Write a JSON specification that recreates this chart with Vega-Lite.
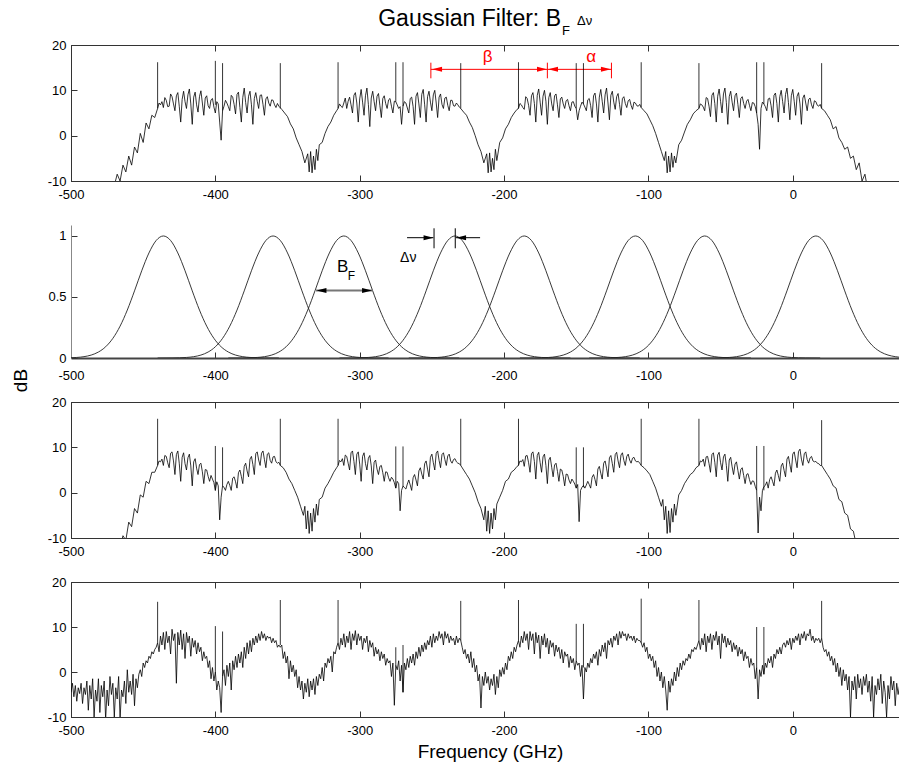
{
"$schema": "https://vega.github.io/schema/vega-lite/v6.json",
"background": "white",
"padding": {"left": 10, "top": 7, "right": 0, "bottom": 0},
"config": {
  "font": "Liberation Sans",
  "view": {"stroke": null},
  "axis": {"grid": false, "labelFont": "Liberation Sans", "labelFontSize": 13, "labelColor": "black", "domainColor": "#333", "tickColor": "#333", "tickSize": -6, "labelPadding": 11, "labelFlush": false, "labelOverlap": false, "titleFont": "Liberation Sans", "titleFontSize": 19, "titleFontWeight": "normal", "titleColor": "black"},
  "axisX": {"labelPadding": 13}
},
"spacing": 44,
"bounds": "flush",
"datasets": {
"s1": [{"f":-474,"a":-12},{"f":-472,"a":-10.5},{"f":-470,"a":-11},{"f":-468,"a":-8.5},{"f":-466,"a":-10},{"f":-464,"a":-6.5},{"f":-462,"a":-8},{"f":-460,"a":-4.5},{"f":-458,"a":-6.5},{"f":-456,"a":-2.5},{"f":-454,"a":-3.8},{"f":-452,"a":0.5},{"f":-450,"a":-1.5},{"f":-448,"a":2.8},{"f":-446,"a":1.5},{"f":-444,"a":4.5},{"f":-442,"a":4},{"f":-440,"a":6},
{"f":-439,"a":7.2},{"f":-438,"a":6.8},{"f":-437,"a":7.5},{"f":-436,"a":6.2},{"f":-435,"a":8.4},{"f":-434,"a":7.8},{"f":-433,"a":6.4},{"f":-432,"a":6.5},{"f":-431,"a":9.2},{"f":-430,"a":8.6},{"f":-429,"a":7},{"f":-428,"a":5.5},{"f":-427,"a":8.8},{"f":-426,"a":9.5},{"f":-425,"a":6.5},{"f":-424,"a":3},{"f":-423,"a":8},{"f":-422,"a":9.8},{"f":-421,"a":7.5},{"f":-420,"a":6},{"f":-419,"a":9},{"f":-418,"a":10.3},{"f":-417,"a":7},{"f":-416,"a":2.5},{"f":-415,"a":8.5},{"f":-414,"a":9.6},{"f":-413,"a":6.8},{"f":-412,"a":5.2},{"f":-411,"a":8.6},{"f":-410,"a":9.9},{"f":-409,"a":7.2},{"f":-408,"a":4.5},{"f":-407,"a":8.3},{"f":-406,"a":8.8},{"f":-405,"a":6.6},{"f":-404,"a":6},{"f":-403,"a":7.9},{"f":-402,"a":8.2},{"f":-401,"a":6.3},{"f":-400,"a":5},{"f":-399,"a":7.5},{"f":-398,"a":7},{"f":-397,"a":3},{"f":-396,"a":-1},{"f":-395,"a":5.5},{"f":-394,"a":6.5},
{"f":-393,"a":7.8},{"f":-392,"a":7.2},{"f":-391,"a":6.4},{"f":-390,"a":5.5},{"f":-389,"a":8.9},{"f":-388,"a":8.5},{"f":-387,"a":6.9},{"f":-386,"a":4.8},{"f":-385,"a":9.1},{"f":-384,"a":9.6},{"f":-383,"a":6.2},{"f":-382,"a":3},{"f":-381,"a":8.4},{"f":-380,"a":10.5},{"f":-379,"a":7.3},{"f":-378,"a":5},{"f":-377,"a":8.7},{"f":-376,"a":9.8},{"f":-375,"a":6.8},{"f":-374,"a":2.5},{"f":-373,"a":8.2},{"f":-372,"a":9.5},{"f":-371,"a":7.6},{"f":-370,"a":6},{"f":-369,"a":8.9},{"f":-368,"a":9},{"f":-367,"a":6.9},{"f":-366,"a":4.5},{"f":-365,"a":8.1},{"f":-364,"a":8.6},{"f":-363,"a":7.2},{"f":-362,"a":6.5},{"f":-361,"a":7.9},{"f":-360,"a":7.8},{"f":-359,"a":6.8},{"f":-358,"a":6.2},{"f":-357,"a":7.1},{"f":-356,"a":6.5},
{"f":-354,"a":5.8},{"f":-352,"a":5},{"f":-350,"a":4.2},{"f":-348,"a":2.6},{"f":-346,"a":1.5},{"f":-344,"a":-0.5},{"f":-342,"a":-2},{"f":-340,"a":-3.5},{"f":-338,"a":-6},{"f":-336,"a":-4},{"f":-335,"a":-8},{"f":-334,"a":-3.5},{"f":-333,"a":-8.2},{"f":-332,"a":-4.5},{"f":-331,"a":-7.5},{"f":-330,"a":-3},{"f":-329,"a":-5.5},{"f":-328,"a":-2},{"f":-326,"a":-1.5},{"f":-324,"a":0.5},{"f":-322,"a":2},{"f":-320,"a":3},{"f":-318,"a":4.5},{"f":-316,"a":5.5},
{"f":-315,"a":6},{"f":-314,"a":7},{"f":-313,"a":6.5},{"f":-312,"a":6.2},{"f":-311,"a":7.2},{"f":-310,"a":8.3},{"f":-309,"a":6},{"f":-308,"a":7.6},{"f":-307,"a":8.5},{"f":-306,"a":6.8},{"f":-305,"a":5},{"f":-304,"a":8.9},{"f":-303,"a":9.5},{"f":-302,"a":7.2},{"f":-301,"a":3},{"f":-300,"a":8.1},{"f":-299,"a":10.2},{"f":-298,"a":7.4},{"f":-297,"a":4.5},{"f":-296,"a":8.8},{"f":-295,"a":10.5},{"f":-294,"a":6.9},{"f":-293,"a":2},{"f":-292,"a":8.3},{"f":-291,"a":9.8},{"f":-290,"a":7.5},{"f":-289,"a":5.5},{"f":-288,"a":8.7},{"f":-287,"a":9.3},{"f":-286,"a":6.6},{"f":-285,"a":4},{"f":-284,"a":8.2},{"f":-283,"a":8.8},{"f":-282,"a":7.1},{"f":-281,"a":6},{"f":-280,"a":7.9},{"f":-279,"a":8.2},{"f":-278,"a":6.5},{"f":-277,"a":5},{"f":-276,"a":7.6},{"f":-275,"a":7.5},{"f":-274,"a":6.8},{"f":-273,"a":6},{"f":-272,"a":6.4},{"f":-271,"a":2.5},{"f":-270,"a":6.5},
{"f":-269,"a":7.5},{"f":-268,"a":7.2},{"f":-267,"a":6.1},{"f":-266,"a":5},{"f":-265,"a":8.2},{"f":-264,"a":8.5},{"f":-263,"a":6.4},{"f":-262,"a":2.5},{"f":-261,"a":8.7},{"f":-260,"a":9.5},{"f":-259,"a":7},{"f":-258,"a":4},{"f":-257,"a":9.1},{"f":-256,"a":10.2},{"f":-255,"a":6.8},{"f":-254,"a":3},{"f":-253,"a":8.6},{"f":-252,"a":9.8},{"f":-251,"a":7.4},{"f":-250,"a":5.5},{"f":-249,"a":9},{"f":-248,"a":10},{"f":-247,"a":7.2},{"f":-246,"a":4},{"f":-245,"a":8.5},{"f":-244,"a":9.2},{"f":-243,"a":6.9},{"f":-242,"a":6},{"f":-241,"a":8.3},{"f":-240,"a":8.5},{"f":-239,"a":6.7},{"f":-238,"a":5.5},{"f":-237,"a":7.8},{"f":-236,"a":7.8},{"f":-235,"a":6.6},{"f":-234,"a":6.5},{"f":-233,"a":7.2},{"f":-232,"a":6.8},{"f":-231,"a":6.3},{"f":-230,"a":6},
{"f":-228,"a":5.2},{"f":-226,"a":4.5},{"f":-224,"a":3},{"f":-222,"a":1.8},{"f":-220,"a":0},{"f":-218,"a":-2},{"f":-216,"a":-3.5},{"f":-214,"a":-6},{"f":-212,"a":-4},{"f":-211,"a":-8.2},{"f":-210,"a":-3.8},{"f":-209,"a":-8},{"f":-208,"a":-5},{"f":-207,"a":-7.5},{"f":-206,"a":-3},{"f":-205,"a":-5.5},{"f":-203,"a":-1.5},{"f":-201,"a":-0.5},{"f":-199,"a":1.5},{"f":-197,"a":2.5},{"f":-195,"a":4},{"f":-193,"a":5},{"f":-191,"a":5.8},
{"f":-190,"a":6},{"f":-189,"a":7.1},{"f":-188,"a":6.8},{"f":-187,"a":6.2},{"f":-186,"a":5.8},{"f":-185,"a":8.6},{"f":-184,"a":8.2},{"f":-183,"a":6.7},{"f":-182,"a":4.5},{"f":-181,"a":8.8},{"f":-180,"a":9.5},{"f":-179,"a":7.1},{"f":-178,"a":3},{"f":-177,"a":8.9},{"f":-176,"a":10.3},{"f":-175,"a":7.4},{"f":-174,"a":4.5},{"f":-173,"a":8.7},{"f":-172,"a":10},{"f":-171,"a":7.6},{"f":-170,"a":2.5},{"f":-169,"a":8.4},{"f":-168,"a":9.5},{"f":-167,"a":7},{"f":-166,"a":5.5},{"f":-165,"a":8.8},{"f":-164,"a":9.2},{"f":-163,"a":6.8},{"f":-162,"a":4},{"f":-161,"a":8.1},{"f":-160,"a":8.5},{"f":-159,"a":7},{"f":-158,"a":6},{"f":-157,"a":7.7},{"f":-156,"a":8},{"f":-155,"a":6.6},{"f":-154,"a":5.5},{"f":-153,"a":7.4},{"f":-152,"a":7.5},{"f":-151,"a":6.5},{"f":-150,"a":6},{"f":-149,"a":3.5},{"f":-148,"a":5.5},{"f":-147,"a":6.5},{"f":-146,"a":7.4},
{"f":-145,"a":7},{"f":-144,"a":6.3},{"f":-143,"a":5.5},{"f":-142,"a":7.9},{"f":-141,"a":8.2},{"f":-140,"a":6.6},{"f":-139,"a":4},{"f":-138,"a":8.8},{"f":-137,"a":9.4},{"f":-136,"a":7},{"f":-135,"a":3},{"f":-134,"a":8.5},{"f":-133,"a":10.2},{"f":-132,"a":7.6},{"f":-131,"a":5},{"f":-130,"a":9},{"f":-129,"a":10.5},{"f":-128,"a":7.2},{"f":-127,"a":3.5},{"f":-126,"a":8.9},{"f":-125,"a":9.8},{"f":-124,"a":7.4},{"f":-123,"a":5.8},{"f":-122,"a":8.6},{"f":-121,"a":9.3},{"f":-120,"a":6.9},{"f":-119,"a":4.5},{"f":-118,"a":8.2},{"f":-117,"a":8.6},{"f":-116,"a":7.1},{"f":-115,"a":6.2},{"f":-114,"a":7.7},{"f":-113,"a":8},{"f":-112,"a":6.7},{"f":-111,"a":5.8},{"f":-110,"a":7.4},{"f":-109,"a":7.2},{"f":-108,"a":6.6},{"f":-107,"a":6.5},{"f":-106,"a":6.9},{"f":-105,"a":6.2},
{"f":-103,"a":5.5},{"f":-101,"a":4.8},{"f":-99,"a":3.5},{"f":-97,"a":2.2},{"f":-95,"a":0.5},{"f":-93,"a":-1.5},{"f":-91,"a":-3.5},{"f":-89,"a":-5.5},{"f":-88,"a":-3.5},{"f":-87,"a":-8.2},{"f":-86,"a":-4.5},{"f":-85,"a":-8},{"f":-84,"a":-3.8},{"f":-83,"a":-7},{"f":-82,"a":-4.5},{"f":-81,"a":-6},{"f":-79,"a":-2},{"f":-77,"a":-1},{"f":-75,"a":0.8},{"f":-73,"a":2.5},{"f":-71,"a":3.5},{"f":-69,"a":4.8},{"f":-67,"a":5.5},
{"f":-65,"a":6},{"f":-64,"a":7},{"f":-63,"a":6.8},{"f":-62,"a":6.3},{"f":-61,"a":5.5},{"f":-60,"a":8.4},{"f":-59,"a":8.2},{"f":-58,"a":6.5},{"f":-57,"a":4.2},{"f":-56,"a":8.9},{"f":-55,"a":9.5},{"f":-54,"a":7.1},{"f":-53,"a":3},{"f":-52,"a":8.7},{"f":-51,"a":10.3},{"f":-50,"a":7.5},{"f":-49,"a":5},{"f":-48,"a":9.2},{"f":-47,"a":10.5},{"f":-46,"a":7.3},{"f":-45,"a":2.5},{"f":-44,"a":8.6},{"f":-43,"a":9.8},{"f":-42,"a":7.4},{"f":-41,"a":5.5},{"f":-40,"a":8.8},{"f":-39,"a":9.4},{"f":-38,"a":6.9},{"f":-37,"a":4},{"f":-36,"a":8.2},{"f":-35,"a":8.6},{"f":-34,"a":7.1},{"f":-33,"a":6},{"f":-32,"a":7.6},{"f":-31,"a":8},{"f":-30,"a":6.7},{"f":-29,"a":5.5},{"f":-28,"a":7.3},{"f":-27,"a":7.2},{"f":-26,"a":6.4},{"f":-25,"a":5},{"f":-24,"a":2.5},{"f":-23,"a":-3},{"f":-22,"a":6},{"f":-21,"a":7.4},
{"f":-20,"a":7},{"f":-19,"a":6.4},{"f":-18,"a":5.5},{"f":-17,"a":8.1},{"f":-16,"a":8.3},{"f":-15,"a":6.6},{"f":-14,"a":4},{"f":-13,"a":8.9},{"f":-12,"a":9.4},{"f":-11,"a":7.1},{"f":-10,"a":3},{"f":-9,"a":8.6},{"f":-8,"a":10},{"f":-7,"a":7.5},{"f":-6,"a":5},{"f":-5,"a":9.1},{"f":-4,"a":10.5},{"f":-3,"a":7.3},{"f":-2,"a":3.5},{"f":-1,"a":8.8},{"f":0,"a":10.2},{"f":1,"a":7.6},{"f":2,"a":4.5},{"f":3,"a":8.7},{"f":4,"a":9.5},{"f":5,"a":7},{"f":6,"a":2.5},{"f":7,"a":8.3},{"f":8,"a":9},{"f":9,"a":7.2},{"f":10,"a":5.5},{"f":11,"a":8},{"f":12,"a":8.3},{"f":13,"a":6.8},{"f":14,"a":6},{"f":15,"a":7.7},{"f":16,"a":7.5},{"f":17,"a":6.7},{"f":18,"a":6.5},{"f":19,"a":6.9},{"f":20,"a":6},
{"f":22,"a":5.5},{"f":24,"a":4.5},{"f":26,"a":3.5},{"f":28,"a":1.5},{"f":30,"a":2},{"f":32,"a":-0.5},{"f":34,"a":-1.5},{"f":36,"a":-3},{"f":38,"a":-2.5},{"f":40,"a":-5},{"f":42,"a":-4.5},{"f":44,"a":-7.5},{"f":46,"a":-6},{"f":48,"a":-10},{"f":50,"a":-8.5},{"f":52,"a":-12}],
"sp1": [{"f":-440,"lo":6,"hi":16.2},{"f":-400,"lo":6.8,"hi":16.5},{"f":-395,"lo":5.5,"hi":16},{"f":-355,"lo":6,"hi":16},{"f":-315,"lo":6,"hi":16.2},{"f":-275,"lo":7.5,"hi":16.2},{"f":-270,"lo":6.5,"hi":16.2},{"f":-230,"lo":6,"hi":16},{"f":-190,"lo":6,"hi":16.2},{"f":-150,"lo":6,"hi":16},{"f":-145,"lo":7,"hi":16},{"f":-105,"lo":6.2,"hi":16.2},{"f":-65,"lo":6,"hi":16},{"f":-25,"lo":5,"hi":16.2},{"f":-20,"lo":7,"hi":16.2},{"f":20,"lo":6,"hi":16}],
"s3": [{"f":-466,"a":-12},{"f":-464,"a":-9.5},{"f":-462,"a":-10.5},{"f":-460,"a":-6.5},{"f":-458,"a":-7.5},{"f":-456,"a":-3.5},{"f":-454,"a":-4.5},{"f":-452,"a":-0.5},{"f":-450,"a":-1},{"f":-448,"a":2.5},{"f":-446,"a":2},{"f":-444,"a":4.5},{"f":-442,"a":4.5},
{"f":-440,"a":6},{"f":-439,"a":7},{"f":-438,"a":6.8},{"f":-437,"a":7.4},{"f":-436,"a":6},{"f":-435,"a":8.2},{"f":-434,"a":8},{"f":-433,"a":6.6},{"f":-432,"a":5.5},{"f":-431,"a":8.7},{"f":-430,"a":9},{"f":-429,"a":7},{"f":-428,"a":4},{"f":-427,"a":8.4},{"f":-426,"a":9.2},{"f":-425,"a":6.5},{"f":-424,"a":2.5},{"f":-423,"a":7.8},{"f":-422,"a":8.8},{"f":-421,"a":6.4},{"f":-420,"a":5},{"f":-419,"a":7.7},{"f":-418,"a":8.5},{"f":-417,"a":5.9},{"f":-416,"a":1.5},{"f":-415,"a":6.8},{"f":-414,"a":7.5},{"f":-413,"a":5.4},{"f":-412,"a":4},{"f":-411,"a":6.2},{"f":-410,"a":6.5},{"f":-409,"a":4.6},{"f":-408,"a":2},{"f":-407,"a":5.1},{"f":-406,"a":5},{"f":-405,"a":3.6},{"f":-404,"a":2.5},{"f":-403,"a":3.8},{"f":-402,"a":3},{"f":-401,"a":2.2},{"f":-400,"a":0.5},{"f":-399,"a":2.4},{"f":-398,"a":1.5},{"f":-397,"a":-6},{"f":-396,"a":-1},{"f":-395,"a":1.5},{"f":-394,"a":1.2},{"f":-393,"a":0.5},
{"f":-392,"a":1.8},{"f":-391,"a":2.5},{"f":-390,"a":1.6},{"f":-389,"a":0.5},{"f":-388,"a":3.2},{"f":-387,"a":3.5},{"f":-386,"a":2.4},{"f":-385,"a":1},{"f":-384,"a":4.4},{"f":-383,"a":5},{"f":-382,"a":3.6},{"f":-381,"a":2},{"f":-380,"a":5.8},{"f":-379,"a":6.5},{"f":-378,"a":4.8},{"f":-377,"a":3.5},{"f":-376,"a":7.4},{"f":-375,"a":8},{"f":-374,"a":6.2},{"f":-373,"a":4},{"f":-372,"a":8.6},{"f":-371,"a":9},{"f":-370,"a":7.2},{"f":-369,"a":6},{"f":-368,"a":8.7},{"f":-367,"a":9.2},{"f":-366,"a":7.3},{"f":-365,"a":5.5},{"f":-364,"a":8.5},{"f":-363,"a":8.8},{"f":-362,"a":7.1},{"f":-361,"a":6.5},{"f":-360,"a":7.9},{"f":-359,"a":8},{"f":-358,"a":6.8},{"f":-357,"a":6.5},{"f":-356,"a":6.7},{"f":-355,"a":6},
{"f":-353,"a":5.5},{"f":-351,"a":4.5},{"f":-349,"a":3},{"f":-347,"a":2},{"f":-345,"a":0.5},{"f":-343,"a":-1},{"f":-341,"a":-3},{"f":-339,"a":-5},{"f":-338,"a":-3},{"f":-337,"a":-8},{"f":-336,"a":-4},{"f":-335,"a":-9},{"f":-334,"a":-4.5},{"f":-333,"a":-8.5},{"f":-332,"a":-3.5},{"f":-331,"a":-6.5},{"f":-330,"a":-2.5},{"f":-329,"a":-5},{"f":-328,"a":-1.5},{"f":-326,"a":-1},{"f":-324,"a":1},{"f":-322,"a":2},{"f":-320,"a":3.2},{"f":-318,"a":4.5},{"f":-316,"a":5.5},
{"f":-315,"a":6},{"f":-314,"a":7.1},{"f":-313,"a":6.8},{"f":-312,"a":7.5},{"f":-311,"a":6},{"f":-310,"a":8.3},{"f":-309,"a":8},{"f":-308,"a":6.5},{"f":-307,"a":5},{"f":-306,"a":8.8},{"f":-305,"a":9.2},{"f":-304,"a":6.9},{"f":-303,"a":4},{"f":-302,"a":8.5},{"f":-301,"a":9},{"f":-300,"a":6.3},{"f":-299,"a":2.5},{"f":-298,"a":8},{"f":-297,"a":8.8},{"f":-296,"a":6.4},{"f":-295,"a":5},{"f":-294,"a":7.6},{"f":-293,"a":8.2},{"f":-292,"a":5.9},{"f":-291,"a":2},{"f":-290,"a":6.7},{"f":-289,"a":7.2},{"f":-288,"a":5.2},{"f":-287,"a":4},{"f":-286,"a":5.8},{"f":-285,"a":6},{"f":-284,"a":4.4},{"f":-283,"a":2.5},{"f":-282,"a":4.6},{"f":-281,"a":4.5},{"f":-280,"a":3.3},{"f":-279,"a":2.5},{"f":-278,"a":3.4},{"f":-277,"a":3},{"f":-276,"a":2.2},{"f":-275,"a":1},{"f":-274,"a":2.5},{"f":-273,"a":2},{"f":-272,"a":-4},{"f":-271,"a":0.5},{"f":-270,"a":1.5},{"f":-269,"a":1.1},{"f":-268,"a":0.8},
{"f":-267,"a":1.9},{"f":-266,"a":2.8},{"f":-265,"a":1.7},{"f":-264,"a":0.5},{"f":-263,"a":3.3},{"f":-262,"a":4},{"f":-261,"a":2.8},{"f":-260,"a":1.5},{"f":-259,"a":4.8},{"f":-258,"a":5.5},{"f":-257,"a":4.1},{"f":-256,"a":3},{"f":-255,"a":6.4},{"f":-254,"a":7},{"f":-253,"a":5.2},{"f":-252,"a":3.5},{"f":-251,"a":7.8},{"f":-250,"a":8.5},{"f":-249,"a":6.6},{"f":-248,"a":5},{"f":-247,"a":8.7},{"f":-246,"a":9.2},{"f":-245,"a":7.1},{"f":-244,"a":5.5},{"f":-243,"a":8.4},{"f":-242,"a":8.8},{"f":-241,"a":7.3},{"f":-240,"a":6},{"f":-239,"a":8.1},{"f":-238,"a":8.5},{"f":-237,"a":7},{"f":-236,"a":6.5},{"f":-235,"a":7.3},{"f":-234,"a":7.5},{"f":-233,"a":6.8},{"f":-232,"a":6.5},{"f":-231,"a":6.4},{"f":-230,"a":6},
{"f":-228,"a":5},{"f":-226,"a":4},{"f":-224,"a":3},{"f":-222,"a":1.5},{"f":-220,"a":0},{"f":-218,"a":-2},{"f":-216,"a":-3.5},{"f":-214,"a":-6},{"f":-213,"a":-3},{"f":-212,"a":-8.5},{"f":-211,"a":-4},{"f":-210,"a":-9},{"f":-209,"a":-4.5},{"f":-208,"a":-8},{"f":-207,"a":-3.5},{"f":-206,"a":-6},{"f":-205,"a":-2.5},{"f":-203,"a":-1},{"f":-201,"a":0.5},{"f":-199,"a":2.5},{"f":-197,"a":3},{"f":-195,"a":4.5},{"f":-193,"a":5},{"f":-191,"a":5.8},
{"f":-190,"a":6},{"f":-189,"a":7},{"f":-188,"a":6.8},{"f":-187,"a":7.3},{"f":-186,"a":5.8},{"f":-185,"a":8.1},{"f":-184,"a":8.2},{"f":-183,"a":6.6},{"f":-182,"a":4.5},{"f":-181,"a":8.6},{"f":-180,"a":9},{"f":-179,"a":6.9},{"f":-178,"a":3},{"f":-177,"a":8.2},{"f":-176,"a":8.9},{"f":-175,"a":6.6},{"f":-174,"a":4.5},{"f":-173,"a":7.9},{"f":-172,"a":8.5},{"f":-171,"a":6},{"f":-170,"a":2},{"f":-169,"a":7.2},{"f":-168,"a":7.8},{"f":-167,"a":5.6},{"f":-166,"a":3.5},{"f":-165,"a":6.1},{"f":-164,"a":6.5},{"f":-163,"a":4.7},{"f":-162,"a":2.5},{"f":-161,"a":5.2},{"f":-160,"a":5},{"f":-159,"a":3.6},{"f":-158,"a":1.5},{"f":-157,"a":4.1},{"f":-156,"a":4},{"f":-155,"a":2.8},{"f":-154,"a":2},{"f":-153,"a":3},{"f":-152,"a":2.5},{"f":-151,"a":1.9},{"f":-150,"a":1},{"f":-149,"a":1.8},{"f":-148,"a":-6.4},{"f":-147,"a":0.5},{"f":-146,"a":1.2},{"f":-145,"a":1.6},{"f":-144,"a":1},
{"f":-143,"a":1.7},{"f":-142,"a":2.5},{"f":-141,"a":1.8},{"f":-140,"a":1},{"f":-139,"a":3.4},{"f":-138,"a":4},{"f":-137,"a":2.9},{"f":-136,"a":1.5},{"f":-135,"a":5.2},{"f":-134,"a":5.8},{"f":-133,"a":4.3},{"f":-132,"a":3},{"f":-131,"a":6.5},{"f":-130,"a":7},{"f":-129,"a":5.4},{"f":-128,"a":3.5},{"f":-127,"a":7.7},{"f":-126,"a":8.2},{"f":-125,"a":6.4},{"f":-124,"a":4.5},{"f":-123,"a":8.4},{"f":-122,"a":8.9},{"f":-121,"a":7},{"f":-120,"a":5.5},{"f":-119,"a":8.3},{"f":-118,"a":8.8},{"f":-117,"a":7.1},{"f":-116,"a":6},{"f":-115,"a":8},{"f":-114,"a":8.5},{"f":-113,"a":7.2},{"f":-112,"a":6.5},{"f":-111,"a":7.6},{"f":-110,"a":7.8},{"f":-109,"a":7},{"f":-108,"a":6.8},{"f":-107,"a":6.9},{"f":-106,"a":6.5},{"f":-105,"a":6},
{"f":-103,"a":5.5},{"f":-101,"a":4.8},{"f":-99,"a":4},{"f":-97,"a":2.5},{"f":-95,"a":1},{"f":-93,"a":-1},{"f":-91,"a":-3},{"f":-90,"a":-1.5},{"f":-89,"a":-6},{"f":-88,"a":-3},{"f":-87,"a":-9},{"f":-86,"a":-4},{"f":-85,"a":-8.8},{"f":-84,"a":-3.5},{"f":-83,"a":-6.5},{"f":-82,"a":-2.5},{"f":-81,"a":-5},{"f":-79,"a":-0.5},{"f":-77,"a":0.5},{"f":-75,"a":2},{"f":-73,"a":3},{"f":-71,"a":4},{"f":-69,"a":4.5},{"f":-67,"a":5.5},
{"f":-65,"a":6},{"f":-64,"a":7},{"f":-63,"a":6.8},{"f":-62,"a":7.4},{"f":-61,"a":5.8},{"f":-60,"a":7.9},{"f":-59,"a":8},{"f":-58,"a":6.4},{"f":-57,"a":4.5},{"f":-56,"a":8.4},{"f":-55,"a":8.8},{"f":-54,"a":6.7},{"f":-53,"a":3.5},{"f":-52,"a":8.3},{"f":-51,"a":8.9},{"f":-50,"a":6.6},{"f":-49,"a":5},{"f":-48,"a":7.9},{"f":-47,"a":8.5},{"f":-46,"a":6},{"f":-45,"a":2.5},{"f":-44,"a":7.2},{"f":-43,"a":7.8},{"f":-42,"a":5.7},{"f":-41,"a":4},{"f":-40,"a":6.3},{"f":-39,"a":6.8},{"f":-38,"a":4.9},{"f":-37,"a":3},{"f":-36,"a":5.1},{"f":-35,"a":5.5},{"f":-34,"a":3.8},{"f":-33,"a":2},{"f":-32,"a":4},{"f":-31,"a":4.2},{"f":-30,"a":2.9},{"f":-29,"a":1.8},{"f":-28,"a":2.6},{"f":-27,"a":2.5},{"f":-26,"a":1.4},{"f":-25,"a":0.5},{"f":-24,"a":-8.9},{"f":-23,"a":-1},{"f":-22,"a":-4},{"f":-21,"a":0.5},{"f":-20,"a":1.3},{"f":-19,"a":1.6},
{"f":-18,"a":2.4},{"f":-17,"a":1},{"f":-16,"a":2.9},{"f":-15,"a":3.5},{"f":-14,"a":2.5},{"f":-13,"a":1.5},{"f":-12,"a":4.3},{"f":-11,"a":5},{"f":-10,"a":3.8},{"f":-9,"a":2.5},{"f":-8,"a":5.9},{"f":-7,"a":6.5},{"f":-6,"a":4.9},{"f":-5,"a":3.5},{"f":-4,"a":7.4},{"f":-3,"a":8},{"f":-2,"a":6.2},{"f":-1,"a":4.5},{"f":0,"a":8.5},{"f":1,"a":9},{"f":2,"a":7.2},{"f":3,"a":5.5},{"f":4,"a":9.1},{"f":5,"a":9.6},{"f":6,"a":7.4},{"f":7,"a":6},{"f":8,"a":8.6},{"f":9,"a":9},{"f":10,"a":7.3},{"f":11,"a":6.5},{"f":12,"a":7.7},{"f":13,"a":8},{"f":14,"a":7},{"f":15,"a":6.8},{"f":16,"a":6.9},{"f":17,"a":6.5},{"f":18,"a":6.4},{"f":19,"a":6},{"f":20,"a":6},
{"f":22,"a":5},{"f":24,"a":4},{"f":26,"a":3},{"f":28,"a":1.5},{"f":30,"a":1},{"f":32,"a":-1.5},{"f":34,"a":-2},{"f":36,"a":-4.5},{"f":38,"a":-5},{"f":40,"a":-8},{"f":42,"a":-8.5},{"f":44,"a":-11.5}],
"sp3": [{"f":-440,"lo":6,"hi":16.3},{"f":-400,"lo":0.5,"hi":10.3},{"f":-395,"lo":1.5,"hi":10},{"f":-355,"lo":6,"hi":16.3},{"f":-315,"lo":6,"hi":16.3},{"f":-275,"lo":1,"hi":10.2},{"f":-270,"lo":1.5,"hi":10.2},{"f":-230,"lo":6,"hi":16.3},{"f":-190,"lo":6,"hi":16.3},{"f":-150,"lo":1,"hi":10},{"f":-145,"lo":1.2,"hi":10},{"f":-105,"lo":6,"hi":16.3},{"f":-65,"lo":6,"hi":16.3},{"f":-25,"lo":0.5,"hi":10.3},{"f":-20,"lo":0.5,"hi":10.3},{"f":20,"lo":6,"hi":16}],
"s4": [{"f":-500,"a":-4.5},{"f":-499,"a":-2.5},{"f":-498,"a":-5.5},{"f":-497,"a":-3},{"f":-496,"a":-6.5},{"f":-495,"a":-3.5},{"f":-494,"a":-4.8},{"f":-493,"a":-2.5},{"f":-492,"a":-7},{"f":-491,"a":-3.5},{"f":-490,"a":-5},{"f":-489,"a":-2},{"f":-488,"a":-8.5},{"f":-487,"a":-3},{"f":-486,"a":-6},{"f":-485,"a":-1.5},{"f":-484,"a":-10},{"f":-483,"a":-4},{"f":-482,"a":-6.5},{"f":-481,"a":-1.5},{"f":-480,"a":-9},{"f":-479,"a":-3},{"f":-478,"a":-5.5},{"f":-477,"a":-2},{"f":-476,"a":-10.5},{"f":-475,"a":-4},{"f":-474,"a":-7.5},{"f":-473,"a":-1},{"f":-472,"a":-5},{"f":-471,"a":-2.5},{"f":-470,"a":-10},{"f":-469,"a":-3.5},{"f":-468,"a":-6},{"f":-467,"a":-1},{"f":-466,"a":-10.5},{"f":-465,"a":-4},{"f":-464,"a":-5.5},{"f":-463,"a":-2},{"f":-462,"a":-7},{"f":-461,"a":0.5},{"f":-460,"a":-4.5},{"f":-459,"a":-2},{"f":-458,"a":-5},{"f":-457,"a":-0.5},{"f":-456,"a":-7.5},{"f":-455,"a":-1.5},{"f":-454,"a":-3.5},{"f":-453,"a":-0.5},{"f":-452,"a":0.5},{"f":-451,"a":-1},{"f":-450,"a":2},{"f":-449,"a":1},{"f":-448,"a":2.5},{"f":-447,"a":2},{"f":-446,"a":3.5},{"f":-445,"a":3},{"f":-444,"a":4.5},{"f":-443,"a":4},{"f":-442,"a":5},{"f":-441,"a":5.5},{"f":-440,"a":6.5},
{"f":-439,"a":4.5},{"f":-438,"a":8},{"f":-437,"a":6},{"f":-436,"a":8.8},{"f":-435,"a":5},{"f":-434,"a":9},{"f":-433,"a":6.5},{"f":-432,"a":8},{"f":-431,"a":4},{"f":-430,"a":9.5},{"f":-429,"a":7},{"f":-428,"a":8.5},{"f":-427,"a":-2.5},{"f":-426,"a":8.8},{"f":-425,"a":6},{"f":-424,"a":9.3},{"f":-423,"a":5},{"f":-422,"a":8.5},{"f":-421,"a":3},{"f":-420,"a":8.8},{"f":-419,"a":6.5},{"f":-418,"a":8},{"f":-417,"a":3.5},{"f":-416,"a":7.5},{"f":-415,"a":5.5},{"f":-414,"a":7},{"f":-413,"a":4},{"f":-412,"a":6.5},{"f":-411,"a":4.5},{"f":-410,"a":5.5},{"f":-409,"a":2.5},{"f":-408,"a":4.5},{"f":-407,"a":3},{"f":-406,"a":3.5},{"f":-405,"a":1},{"f":-404,"a":2.5},{"f":-403,"a":-1.5},{"f":-402,"a":1},{"f":-401,"a":-2},{"f":-400,"a":0},{"f":-399,"a":-4},{"f":-398,"a":-2},{"f":-397,"a":-3.5},{"f":-396,"a":-9},{"f":-395,"a":-1},{"f":-394,"a":0.5},{"f":-393,"a":-3},
{"f":-392,"a":1.5},{"f":-391,"a":-1},{"f":-390,"a":2},{"f":-389,"a":-4},{"f":-388,"a":2.5},{"f":-387,"a":0.5},{"f":-386,"a":3.5},{"f":-385,"a":1},{"f":-384,"a":4},{"f":-383,"a":2},{"f":-382,"a":4.5},{"f":-381,"a":1},{"f":-380,"a":5.5},{"f":-379,"a":3},{"f":-378,"a":6.5},{"f":-377,"a":4},{"f":-376,"a":7},{"f":-375,"a":4.5},{"f":-374,"a":7.5},{"f":-373,"a":6},{"f":-372,"a":8},{"f":-371,"a":6.5},{"f":-370,"a":8.5},{"f":-369,"a":7},{"f":-368,"a":9},{"f":-367,"a":7.5},{"f":-366,"a":8.5},{"f":-365,"a":7},{"f":-364,"a":8},{"f":-363,"a":7.5},{"f":-362,"a":7.8},{"f":-361,"a":6.5},{"f":-360,"a":7.5},{"f":-359,"a":6.5},{"f":-358,"a":7},{"f":-357,"a":5.5},{"f":-356,"a":6},
{"f":-355,"a":5.5},{"f":-354,"a":6},{"f":-353,"a":3},{"f":-352,"a":4.5},{"f":-351,"a":2},{"f":-350,"a":3.5},{"f":-349,"a":-1.5},{"f":-348,"a":2.5},{"f":-347,"a":0},{"f":-346,"a":1.5},{"f":-345,"a":-1},{"f":-344,"a":0.5},{"f":-343,"a":-3.5},{"f":-342,"a":-1},{"f":-341,"a":-4},{"f":-340,"a":-2},{"f":-339,"a":-6},{"f":-338,"a":-2.5},{"f":-337,"a":-4.5},{"f":-336,"a":-1.5},{"f":-335,"a":-5.5},{"f":-334,"a":-2},{"f":-333,"a":-4},{"f":-332,"a":-1.5},{"f":-331,"a":-5},{"f":-330,"a":-1},{"f":-329,"a":-3},{"f":-328,"a":-0.5},{"f":-327,"a":-1.5},{"f":-326,"a":1},{"f":-325,"a":-2},{"f":-324,"a":2},{"f":-323,"a":1},{"f":-322,"a":3},{"f":-321,"a":2},{"f":-320,"a":3.5},{"f":-319,"a":0},{"f":-318,"a":4.5},{"f":-317,"a":4},{"f":-316,"a":5.5},{"f":-315,"a":6.5},
{"f":-314,"a":5},{"f":-313,"a":7.5},{"f":-312,"a":6},{"f":-311,"a":8.5},{"f":-310,"a":5.5},{"f":-309,"a":8},{"f":-308,"a":6.5},{"f":-307,"a":9},{"f":-306,"a":5},{"f":-305,"a":8.5},{"f":-304,"a":7},{"f":-303,"a":9.2},{"f":-302,"a":6},{"f":-301,"a":8.5},{"f":-300,"a":7},{"f":-299,"a":8},{"f":-298,"a":5},{"f":-297,"a":7.5},{"f":-296,"a":6.5},{"f":-295,"a":8},{"f":-294,"a":4.5},{"f":-293,"a":7},{"f":-292,"a":5.5},{"f":-291,"a":6.5},{"f":-290,"a":3.5},{"f":-289,"a":5.5},{"f":-288,"a":4},{"f":-287,"a":5},{"f":-286,"a":2.5},{"f":-285,"a":4.5},{"f":-284,"a":3},{"f":-283,"a":4},{"f":-282,"a":1.5},{"f":-281,"a":3},{"f":-280,"a":2},{"f":-279,"a":2.5},{"f":-278,"a":-1},{"f":-277,"a":2},{"f":-276,"a":-7.4},{"f":-275,"a":1.5},{"f":-274,"a":0.5},{"f":-273,"a":2.5},{"f":-272,"a":-2},{"f":-271,"a":1.5},{"f":-270,"a":-4.5},{"f":-269,"a":2},
{"f":-268,"a":0.5},{"f":-267,"a":3},{"f":-266,"a":1},{"f":-265,"a":3.5},{"f":-264,"a":2},{"f":-263,"a":4},{"f":-262,"a":1.5},{"f":-261,"a":4.5},{"f":-260,"a":3},{"f":-259,"a":5.5},{"f":-258,"a":3.5},{"f":-257,"a":6},{"f":-256,"a":4.5},{"f":-255,"a":6.5},{"f":-254,"a":5},{"f":-253,"a":7},{"f":-252,"a":6},{"f":-251,"a":8},{"f":-250,"a":5.5},{"f":-249,"a":8.5},{"f":-248,"a":6.5},{"f":-247,"a":8},{"f":-246,"a":7},{"f":-245,"a":9},{"f":-244,"a":7.5},{"f":-243,"a":8.5},{"f":-242,"a":6},{"f":-241,"a":9},{"f":-240,"a":7.5},{"f":-239,"a":8.5},{"f":-238,"a":6.5},{"f":-237,"a":8},{"f":-236,"a":7},{"f":-235,"a":7.5},{"f":-234,"a":6},{"f":-233,"a":8},{"f":-232,"a":6.5},{"f":-231,"a":7.5},{"f":-230,"a":7},
{"f":-229,"a":5.5},{"f":-228,"a":4},{"f":-227,"a":5},{"f":-226,"a":3},{"f":-225,"a":4},{"f":-224,"a":2},{"f":-223,"a":4.5},{"f":-222,"a":1},{"f":-221,"a":3},{"f":-220,"a":0},{"f":-219,"a":1.5},{"f":-218,"a":-2},{"f":-217,"a":-0.5},{"f":-216,"a":-8},{"f":-215,"a":-1},{"f":-214,"a":-3},{"f":-213,"a":0},{"f":-212,"a":-2.5},{"f":-211,"a":-1},{"f":-210,"a":-4},{"f":-209,"a":-1.5},{"f":-208,"a":-3},{"f":-207,"a":-0.5},{"f":-206,"a":-5},{"f":-205,"a":-1},{"f":-204,"a":-3.5},{"f":-203,"a":0.5},{"f":-202,"a":-1},{"f":-201,"a":1},{"f":-200,"a":-0.5},{"f":-199,"a":2},{"f":-198,"a":0.5},{"f":-197,"a":3.5},{"f":-196,"a":2.5},{"f":-195,"a":4.5},{"f":-194,"a":3},{"f":-193,"a":5.5},{"f":-192,"a":4.5},{"f":-191,"a":6},{"f":-190,"a":7},
{"f":-189,"a":5.5},{"f":-188,"a":8},{"f":-187,"a":6.5},{"f":-186,"a":9},{"f":-185,"a":7},{"f":-184,"a":8.5},{"f":-183,"a":5},{"f":-182,"a":9},{"f":-181,"a":7},{"f":-180,"a":8.5},{"f":-179,"a":4},{"f":-178,"a":8.8},{"f":-177,"a":6.5},{"f":-176,"a":8.2},{"f":-175,"a":3},{"f":-174,"a":8},{"f":-173,"a":6},{"f":-172,"a":8.5},{"f":-171,"a":5.5},{"f":-170,"a":7.5},{"f":-169,"a":4},{"f":-168,"a":7},{"f":-167,"a":5.5},{"f":-166,"a":6.5},{"f":-165,"a":3.5},{"f":-164,"a":6},{"f":-163,"a":4.5},{"f":-162,"a":5.5},{"f":-161,"a":3},{"f":-160,"a":5},{"f":-159,"a":2},{"f":-158,"a":4.5},{"f":-157,"a":3.5},{"f":-156,"a":4},{"f":-155,"a":1},{"f":-154,"a":3.5},{"f":-153,"a":2},{"f":-152,"a":3},{"f":-151,"a":0.5},{"f":-150,"a":2.5},{"f":-149,"a":1.5},{"f":-148,"a":2},{"f":-147,"a":-1},{"f":-146,"a":1.5},{"f":-145,"a":-6},{"f":-144,"a":1},{"f":-143,"a":0},
{"f":-142,"a":2},{"f":-141,"a":1},{"f":-140,"a":3},{"f":-139,"a":2},{"f":-138,"a":4},{"f":-137,"a":3},{"f":-136,"a":4.5},{"f":-135,"a":1.5},{"f":-134,"a":5},{"f":-133,"a":3.5},{"f":-132,"a":6},{"f":-131,"a":4.5},{"f":-130,"a":6.5},{"f":-129,"a":3},{"f":-128,"a":7},{"f":-127,"a":6},{"f":-126,"a":7.5},{"f":-125,"a":5.5},{"f":-124,"a":8},{"f":-123,"a":7},{"f":-122,"a":8.5},{"f":-121,"a":6},{"f":-120,"a":9},{"f":-119,"a":7.5},{"f":-118,"a":9},{"f":-117,"a":8},{"f":-116,"a":8.5},{"f":-115,"a":7},{"f":-114,"a":8.5},{"f":-113,"a":7.5},{"f":-112,"a":8},{"f":-111,"a":7},{"f":-110,"a":8},{"f":-109,"a":6.5},{"f":-108,"a":7.5},{"f":-107,"a":7},{"f":-106,"a":7},{"f":-105,"a":6.5},
{"f":-104,"a":5.5},{"f":-103,"a":6.5},{"f":-102,"a":4.5},{"f":-101,"a":5.5},{"f":-100,"a":3},{"f":-99,"a":4},{"f":-98,"a":2.5},{"f":-97,"a":3.5},{"f":-96,"a":1},{"f":-95,"a":2.5},{"f":-94,"a":-1},{"f":-93,"a":1},{"f":-92,"a":-2},{"f":-91,"a":0},{"f":-90,"a":-3.5},{"f":-89,"a":-1},{"f":-88,"a":-4},{"f":-87,"a":-8.5},{"f":-86,"a":-2},{"f":-85,"a":-4.5},{"f":-84,"a":-1.5},{"f":-83,"a":-3},{"f":-82,"a":0},{"f":-81,"a":-2},{"f":-80,"a":1},{"f":-79,"a":-1},{"f":-78,"a":2},{"f":-77,"a":0.5},{"f":-76,"a":2.5},{"f":-75,"a":1.5},{"f":-74,"a":3},{"f":-73,"a":2.5},{"f":-72,"a":4},{"f":-71,"a":3},{"f":-70,"a":5},{"f":-69,"a":4.5},{"f":-68,"a":5.5},{"f":-67,"a":5},{"f":-66,"a":6},{"f":-65,"a":7},
{"f":-64,"a":5},{"f":-63,"a":7.5},{"f":-62,"a":6},{"f":-61,"a":8.5},{"f":-60,"a":4.5},{"f":-59,"a":8},{"f":-58,"a":6.5},{"f":-57,"a":8.5},{"f":-56,"a":5},{"f":-55,"a":8.2},{"f":-54,"a":7},{"f":-53,"a":9},{"f":-52,"a":6},{"f":-51,"a":8},{"f":-50,"a":3},{"f":-49,"a":8.5},{"f":-48,"a":6.5},{"f":-47,"a":8},{"f":-46,"a":5.5},{"f":-45,"a":7.5},{"f":-44,"a":6},{"f":-43,"a":7},{"f":-42,"a":4.5},{"f":-41,"a":6.5},{"f":-40,"a":5},{"f":-39,"a":6},{"f":-38,"a":3.5},{"f":-37,"a":5.5},{"f":-36,"a":4},{"f":-35,"a":5},{"f":-34,"a":2.5},{"f":-33,"a":4.5},{"f":-32,"a":3},{"f":-31,"a":3.5},{"f":-30,"a":1},{"f":-29,"a":3},{"f":-28,"a":1.5},{"f":-27,"a":2},{"f":-26,"a":-1.5},{"f":-25,"a":1},{"f":-24,"a":-6},{"f":-23,"a":0.5},{"f":-22,"a":-1},{"f":-21,"a":1.5},{"f":-20,"a":-0.5},
{"f":-19,"a":2},{"f":-18,"a":1},{"f":-17,"a":3},{"f":-16,"a":2},{"f":-15,"a":3.5},{"f":-14,"a":1},{"f":-13,"a":4},{"f":-12,"a":3},{"f":-11,"a":5},{"f":-10,"a":4},{"f":-9,"a":5.5},{"f":-8,"a":4},{"f":-7,"a":6},{"f":-6,"a":6.5},{"f":-5,"a":5.5},{"f":-4,"a":7},{"f":-3,"a":6},{"f":-2,"a":7.5},{"f":-1,"a":5},{"f":0,"a":7.5},{"f":1,"a":6.5},{"f":2,"a":8},{"f":3,"a":7},{"f":4,"a":8.5},{"f":5,"a":6},{"f":6,"a":8.5},{"f":7,"a":7.5},{"f":8,"a":9},{"f":9,"a":7},{"f":10,"a":8.5},{"f":11,"a":8},{"f":12,"a":9.5},{"f":13,"a":7},{"f":14,"a":8},{"f":15,"a":6.5},{"f":16,"a":7.5},{"f":17,"a":7},{"f":18,"a":7.5},{"f":19,"a":6.5},{"f":20,"a":7.5},
{"f":21,"a":5.5},{"f":22,"a":4.5},{"f":23,"a":5},{"f":24,"a":3.5},{"f":25,"a":4.5},{"f":26,"a":2.5},{"f":27,"a":3.5},{"f":28,"a":1.5},{"f":29,"a":3},{"f":30,"a":0},{"f":31,"a":2},{"f":32,"a":-1},{"f":33,"a":1},{"f":34,"a":-3},{"f":35,"a":0.5},{"f":36,"a":-2},{"f":37,"a":-0.5},{"f":38,"a":-4},{"f":39,"a":-1},{"f":40,"a":-10},{"f":41,"a":-2},{"f":42,"a":-4},{"f":43,"a":-1},{"f":44,"a":-6},{"f":45,"a":-0.5},{"f":46,"a":-3.5},{"f":47,"a":-1.5},{"f":48,"a":-5},{"f":49,"a":-1},{"f":50,"a":-3},{"f":51,"a":-0.5},{"f":52,"a":-4.5},{"f":53,"a":-2},{"f":54,"a":-6.5},{"f":55,"a":-1},{"f":56,"a":-10},{"f":57,"a":-3},{"f":58,"a":-5},{"f":59,"a":-1.5},{"f":60,"a":-4},{"f":61,"a":-0.5},{"f":62,"a":-7},{"f":63,"a":-2},{"f":64,"a":-4.5},{"f":65,"a":-10},{"f":66,"a":-3},{"f":67,"a":-6},{"f":68,"a":-1},{"f":69,"a":-4},{"f":70,"a":-2},{"f":71,"a":-7.5},{"f":72,"a":-2.5},{"f":73,"a":-5},{"f":74,"a":-3}],
"sp4": [{"f":-440,"lo":6.5,"hi":15.6},{"f":-400,"lo":0,"hi":10.2},{"f":-395,"lo":-1,"hi":9},{"f":-355,"lo":6,"hi":16},{"f":-315,"lo":6.5,"hi":16},{"f":-275,"lo":1.5,"hi":5.5},{"f":-270,"lo":-4.5,"hi":6},{"f":-230,"lo":7,"hi":15.8},{"f":-190,"lo":7,"hi":16},{"f":-150,"lo":2.5,"hi":10.7},{"f":-145,"lo":1,"hi":10.7},{"f":-105,"lo":6.5,"hi":16.3},{"f":-65,"lo":7,"hi":16},{"f":-25,"lo":1,"hi":10},{"f":-20,"lo":-0.5,"hi":10},{"f":20,"lo":7.5,"hi":15.8}],
"g": [
{"g":1,"f":-516,"v":0},{"g":1,"f":-506,"v":0.0007},{"g":1,"f":-496,"v":0.0046},{"g":1,"f":-491,"v":0.011},{"g":1,"f":-486,"v":0.024},{"g":1,"f":-481,"v":0.049},{"g":1,"f":-476,"v":0.092},{"g":1,"f":-471,"v":0.161},{"g":1,"f":-466,"v":0.261},{"g":1,"f":-461,"v":0.393},{"g":1,"f":-456,"v":0.55},{"g":1,"f":-451,"v":0.715},{"g":1,"f":-446,"v":0.861},{"g":1,"f":-441,"v":0.963},{"g":1,"f":-436,"v":1},{"g":1,"f":-431,"v":0.963},{"g":1,"f":-426,"v":0.861},{"g":1,"f":-421,"v":0.715},{"g":1,"f":-416,"v":0.55},{"g":1,"f":-411,"v":0.393},{"g":1,"f":-406,"v":0.261},{"g":1,"f":-401,"v":0.161},{"g":1,"f":-396,"v":0.092},{"g":1,"f":-391,"v":0.049},{"g":1,"f":-386,"v":0.024},{"g":1,"f":-381,"v":0.011},{"g":1,"f":-376,"v":0.0046},{"g":1,"f":-366,"v":0.0007},{"g":1,"f":-356,"v":0},
{"g":2,"f":-440,"v":0},{"g":2,"f":-430,"v":0.0007},{"g":2,"f":-420,"v":0.0046},{"g":2,"f":-415,"v":0.011},{"g":2,"f":-410,"v":0.024},{"g":2,"f":-405,"v":0.049},{"g":2,"f":-400,"v":0.092},{"g":2,"f":-395,"v":0.161},{"g":2,"f":-390,"v":0.261},{"g":2,"f":-385,"v":0.393},{"g":2,"f":-380,"v":0.55},{"g":2,"f":-375,"v":0.715},{"g":2,"f":-370,"v":0.861},{"g":2,"f":-365,"v":0.963},{"g":2,"f":-360,"v":1},{"g":2,"f":-355,"v":0.963},{"g":2,"f":-350,"v":0.861},{"g":2,"f":-345,"v":0.715},{"g":2,"f":-340,"v":0.55},{"g":2,"f":-335,"v":0.393},{"g":2,"f":-330,"v":0.261},{"g":2,"f":-325,"v":0.161},{"g":2,"f":-320,"v":0.092},{"g":2,"f":-315,"v":0.049},{"g":2,"f":-310,"v":0.024},{"g":2,"f":-305,"v":0.011},{"g":2,"f":-300,"v":0.0046},{"g":2,"f":-290,"v":0.0007},{"g":2,"f":-280,"v":0},
{"g":3,"f":-391,"v":0},{"g":3,"f":-381,"v":0.0007},{"g":3,"f":-371,"v":0.0046},{"g":3,"f":-366,"v":0.011},{"g":3,"f":-361,"v":0.024},{"g":3,"f":-356,"v":0.049},{"g":3,"f":-351,"v":0.092},{"g":3,"f":-346,"v":0.161},{"g":3,"f":-341,"v":0.261},{"g":3,"f":-336,"v":0.393},{"g":3,"f":-331,"v":0.55},{"g":3,"f":-326,"v":0.715},{"g":3,"f":-321,"v":0.861},{"g":3,"f":-316,"v":0.963},{"g":3,"f":-311,"v":1},{"g":3,"f":-306,"v":0.963},{"g":3,"f":-301,"v":0.861},{"g":3,"f":-296,"v":0.715},{"g":3,"f":-291,"v":0.55},{"g":3,"f":-286,"v":0.393},{"g":3,"f":-281,"v":0.261},{"g":3,"f":-276,"v":0.161},{"g":3,"f":-271,"v":0.092},{"g":3,"f":-266,"v":0.049},{"g":3,"f":-261,"v":0.024},{"g":3,"f":-256,"v":0.011},{"g":3,"f":-251,"v":0.0046},{"g":3,"f":-241,"v":0.0007},{"g":3,"f":-231,"v":0},
{"g":4,"f":-314,"v":0},{"g":4,"f":-304,"v":0.0007},{"g":4,"f":-294,"v":0.0046},{"g":4,"f":-289,"v":0.011},{"g":4,"f":-284,"v":0.024},{"g":4,"f":-279,"v":0.049},{"g":4,"f":-274,"v":0.092},{"g":4,"f":-269,"v":0.161},{"g":4,"f":-264,"v":0.261},{"g":4,"f":-259,"v":0.393},{"g":4,"f":-254,"v":0.55},{"g":4,"f":-249,"v":0.715},{"g":4,"f":-244,"v":0.861},{"g":4,"f":-239,"v":0.963},{"g":4,"f":-234,"v":1},{"g":4,"f":-229,"v":0.963},{"g":4,"f":-224,"v":0.861},{"g":4,"f":-219,"v":0.715},{"g":4,"f":-214,"v":0.55},{"g":4,"f":-209,"v":0.393},{"g":4,"f":-204,"v":0.261},{"g":4,"f":-199,"v":0.161},{"g":4,"f":-194,"v":0.092},{"g":4,"f":-189,"v":0.049},{"g":4,"f":-184,"v":0.024},{"g":4,"f":-179,"v":0.011},{"g":4,"f":-174,"v":0.0046},{"g":4,"f":-164,"v":0.0007},{"g":4,"f":-154,"v":0},
{"g":5,"f":-266,"v":0},{"g":5,"f":-256,"v":0.0007},{"g":5,"f":-246,"v":0.0046},{"g":5,"f":-241,"v":0.011},{"g":5,"f":-236,"v":0.024},{"g":5,"f":-231,"v":0.049},{"g":5,"f":-226,"v":0.092},{"g":5,"f":-221,"v":0.161},{"g":5,"f":-216,"v":0.261},{"g":5,"f":-211,"v":0.393},{"g":5,"f":-206,"v":0.55},{"g":5,"f":-201,"v":0.715},{"g":5,"f":-196,"v":0.861},{"g":5,"f":-191,"v":0.963},{"g":5,"f":-186,"v":1},{"g":5,"f":-181,"v":0.963},{"g":5,"f":-176,"v":0.861},{"g":5,"f":-171,"v":0.715},{"g":5,"f":-166,"v":0.55},{"g":5,"f":-161,"v":0.393},{"g":5,"f":-156,"v":0.261},{"g":5,"f":-151,"v":0.161},{"g":5,"f":-146,"v":0.092},{"g":5,"f":-141,"v":0.049},{"g":5,"f":-136,"v":0.024},{"g":5,"f":-131,"v":0.011},{"g":5,"f":-126,"v":0.0046},{"g":5,"f":-116,"v":0.0007},{"g":5,"f":-106,"v":0},
{"g":6,"f":-189,"v":0},{"g":6,"f":-179,"v":0.0007},{"g":6,"f":-169,"v":0.0046},{"g":6,"f":-164,"v":0.011},{"g":6,"f":-159,"v":0.024},{"g":6,"f":-154,"v":0.049},{"g":6,"f":-149,"v":0.092},{"g":6,"f":-144,"v":0.161},{"g":6,"f":-139,"v":0.261},{"g":6,"f":-134,"v":0.393},{"g":6,"f":-129,"v":0.55},{"g":6,"f":-124,"v":0.715},{"g":6,"f":-119,"v":0.861},{"g":6,"f":-114,"v":0.963},{"g":6,"f":-109,"v":1},{"g":6,"f":-104,"v":0.963},{"g":6,"f":-99,"v":0.861},{"g":6,"f":-94,"v":0.715},{"g":6,"f":-89,"v":0.55},{"g":6,"f":-84,"v":0.393},{"g":6,"f":-79,"v":0.261},{"g":6,"f":-74,"v":0.161},{"g":6,"f":-69,"v":0.092},{"g":6,"f":-64,"v":0.049},{"g":6,"f":-59,"v":0.024},{"g":6,"f":-54,"v":0.011},{"g":6,"f":-49,"v":0.0046},{"g":6,"f":-39,"v":0.0007},{"g":6,"f":-29,"v":0},
{"g":7,"f":-141,"v":0},{"g":7,"f":-131,"v":0.0007},{"g":7,"f":-121,"v":0.0046},{"g":7,"f":-116,"v":0.011},{"g":7,"f":-111,"v":0.024},{"g":7,"f":-106,"v":0.049},{"g":7,"f":-101,"v":0.092},{"g":7,"f":-96,"v":0.161},{"g":7,"f":-91,"v":0.261},{"g":7,"f":-86,"v":0.393},{"g":7,"f":-81,"v":0.55},{"g":7,"f":-76,"v":0.715},{"g":7,"f":-71,"v":0.861},{"g":7,"f":-66,"v":0.963},{"g":7,"f":-61,"v":1},{"g":7,"f":-56,"v":0.963},{"g":7,"f":-51,"v":0.861},{"g":7,"f":-46,"v":0.715},{"g":7,"f":-41,"v":0.55},{"g":7,"f":-36,"v":0.393},{"g":7,"f":-31,"v":0.261},{"g":7,"f":-26,"v":0.161},{"g":7,"f":-21,"v":0.092},{"g":7,"f":-16,"v":0.049},{"g":7,"f":-11,"v":0.024},{"g":7,"f":-6,"v":0.011},{"g":7,"f":-1,"v":0.0046},{"g":7,"f":9,"v":0.0007},{"g":7,"f":19,"v":0},
{"g":8,"f":-64,"v":0},{"g":8,"f":-54,"v":0.0007},{"g":8,"f":-44,"v":0.0046},{"g":8,"f":-39,"v":0.011},{"g":8,"f":-34,"v":0.024},{"g":8,"f":-29,"v":0.049},{"g":8,"f":-24,"v":0.092},{"g":8,"f":-19,"v":0.161},{"g":8,"f":-14,"v":0.261},{"g":8,"f":-9,"v":0.393},{"g":8,"f":-4,"v":0.55},{"g":8,"f":1,"v":0.715},{"g":8,"f":6,"v":0.861},{"g":8,"f":11,"v":0.963},{"g":8,"f":16,"v":1},{"g":8,"f":21,"v":0.963},{"g":8,"f":26,"v":0.861},{"g":8,"f":31,"v":0.715},{"g":8,"f":36,"v":0.55},{"g":8,"f":41,"v":0.393},{"g":8,"f":46,"v":0.261},{"g":8,"f":51,"v":0.161},{"g":8,"f":56,"v":0.092},{"g":8,"f":61,"v":0.049},{"g":8,"f":66,"v":0.024},{"g":8,"f":71,"v":0.011},{"g":8,"f":76,"v":0.0046},{"g":8,"f":86,"v":0.0007},{"g":8,"f":96,"v":0}],
"rV": [{"f":-250.7,"lo":12.65,"hi":16.1},{"f":-170,"lo":12.65,"hi":16.1},{"f":-125.6,"lo":12.65,"hi":16.1}],
"rH": [{"f1":-250.7,"f2":-170,"v":14.63},{"f1":-170,"f2":-125.6,"v":14.63}],
"rHR": [{"f":-173.7,"v":14.63},{"f":-129.4,"v":14.63}],
"rHL": [{"f":-246.4,"v":14.63},{"f":-166.1,"v":14.63}],
"greek": [{"f":-211.4,"v":16.25,"t":"β"},{"f":-139.6,"v":16.32,"t":"α"}],
"tMain": [{"f":-160.55,"v":24.19,"t":"Gaussian Filter: B"}],
"tSub": [{"f":-159.9,"v":22.2,"t":"F"}],
"tDv": [{"f":-149.5,"v":24.41,"t":"Δν"}],
"bf": [{"f1":-330.3,"f2":-291,"v":0.553}],
"hR2": [{"f":-294.9,"v":0.553},{"f":-252.3,"v":0.986}],
"hL2": [{"f":-326.5,"v":0.553},{"f":-229.8,"v":0.986}],
"dvL": [{"f1":-267.2,"f2":-249,"v":0.986},{"f1":-233.5,"f2":-216.6,"v":0.986}],
"dvM": [{"f":-248.5,"lo":0.899,"hi":1.063},{"f":-233.8,"lo":0.899,"hi":1.063}],
"bB": [{"f":-315.7,"v":0.702,"t":"B"}],
"bF": [{"f":-308.3,"v":0.639,"t":"F"}],
"dvT": [{"f":-272,"v":0.789,"t":"Δν"}]
},
"vconcat": [
{
 "width": 828, "height": 136,
 "view": {"stroke": "#333", "strokeWidth": 1},
 "resolve": {"axis": {"x": "independent"}},
 "layer": [
  {"layer": [
   {"data": {"name": "s1"}, "mark": {"type": "line", "clip": true, "color": "black", "strokeWidth": 0.8},
    "encoding": {
     "x": {"field": "f", "type": "quantitative", "scale": {"domain": [-500, 73.6], "nice": false, "zero": false}, "axis": {"orient": "bottom", "values": [-500,-400,-300,-200,-100,0], "title": null, "labelExpr": "'' + datum.value"}},
     "y": {"field": "a", "type": "quantitative", "scale": {"domain": [-10, 20], "nice": false, "zero": false}, "axis": {"values": [-10,0,10,20], "title": null, "labelExpr": "'' + datum.value"}}}},
   {"data": {"name": "rV"}, "mark": {"type": "rule", "color": "#ff0000", "strokeWidth": 1},
    "encoding": {"x": {"field": "f", "type": "quantitative", "axis": {"title": null}}, "y": {"field": "lo", "type": "quantitative", "axis": {"title": null}}, "y2": {"field": "hi"}}},
   {"data": {"name": "rH"}, "mark": {"type": "rule", "color": "#ff0000", "strokeWidth": 1},
    "encoding": {"x": {"field": "f1", "type": "quantitative", "axis": {"title": null}}, "x2": {"field": "f2"}, "y": {"field": "v", "type": "quantitative", "axis": {"title": null}}}},
   {"data": {"name": "rHR"}, "mark": {"type": "point", "shape": "M-1,-0.5L1,0L-1,0.5Z", "size": 100, "filled": true, "color": "#ff0000", "opacity": 1, "strokeWidth": 0},
    "encoding": {"x": {"field": "f", "type": "quantitative", "axis": {"title": null}}, "y": {"field": "v", "type": "quantitative", "axis": {"title": null}}}},
   {"data": {"name": "rHL"}, "mark": {"type": "point", "shape": "M1,-0.5L-1,0L1,0.5Z", "size": 100, "filled": true, "color": "#ff0000", "opacity": 1, "strokeWidth": 0},
    "encoding": {"x": {"field": "f", "type": "quantitative", "axis": {"title": null}}, "y": {"field": "v", "type": "quantitative", "axis": {"title": null}}}},
   {"data": {"name": "greek"}, "mark": {"type": "text", "color": "#ff0000", "fontSize": 17, "font": "Liberation Sans", "align": "center", "baseline": "alphabetic"},
    "encoding": {"x": {"field": "f", "type": "quantitative", "axis": {"title": null}}, "y": {"field": "v", "type": "quantitative", "axis": {"title": null}}, "text": {"field": "t"}}},
   {"data": {"name": "tMain"}, "mark": {"type": "text", "color": "black", "fontSize": 23, "font": "Liberation Sans", "align": "right", "baseline": "alphabetic"},
    "encoding": {"x": {"field": "f", "type": "quantitative", "axis": {"title": null}}, "y": {"field": "v", "type": "quantitative", "axis": {"title": null}}, "text": {"field": "t"}}},
   {"data": {"name": "tSub"}, "mark": {"type": "text", "color": "black", "fontSize": 13, "font": "Liberation Sans", "align": "left", "baseline": "alphabetic"},
    "encoding": {"x": {"field": "f", "type": "quantitative", "axis": {"title": null}}, "y": {"field": "v", "type": "quantitative", "axis": {"title": null}}, "text": {"field": "t"}}},
   {"data": {"name": "tDv"}, "mark": {"type": "text", "color": "black", "fontSize": 13, "font": "Liberation Sans", "align": "left", "baseline": "alphabetic"},
    "encoding": {"x": {"field": "f", "type": "quantitative", "axis": {"title": null}}, "y": {"field": "v", "type": "quantitative", "axis": {"title": null}}, "text": {"field": "t"}}}
  ]},
  {"data": {"name": "sp1"}, "mark": {"type": "rule", "color": "black", "strokeWidth": 0.8},
   "encoding": {
    "x": {"field": "f", "type": "quantitative", "axis": {"orient": "top", "values": [-500,-400,-300,-200,-100,0], "labels": false, "title": null, "domain": false}},
    "y": {"field": "lo", "type": "quantitative", "axis": {"title": null}}, "y2": {"field": "hi"}}}
 ]
},
{
 "width": 828, "height": 133,
 "layer": [
  {"data": {"name": "g"}, "mark": {"type": "line", "clip": true, "color": "#222", "strokeWidth": 0.9, "interpolate": "monotone"},
   "encoding": {
    "x": {"field": "f", "type": "quantitative", "scale": {"domain": [-500, 73.6], "nice": false, "zero": false}, "axis": {"values": [-500,-400,-300,-200,-100,0], "title": null, "labelExpr": "'' + datum.value", "labelPadding": 17, "domainWidth": 2, "domainColor": "#444"}},
    "y": {"field": "v", "type": "quantitative", "scale": {"domain": [0, 1.09], "nice": false, "zero": false}, "axis": {"values": [0,0.5,1], "title": null, "labelExpr": "'' + datum.value", "domainColor": "#888"}},
    "detail": {"field": "g", "type": "nominal"}}},
  {"data": {"name": "bf"}, "mark": {"type": "rule", "color": "#777", "strokeWidth": 2},
   "encoding": {"x": {"field": "f1", "type": "quantitative", "axis": {"title": null}}, "x2": {"field": "f2"}, "y": {"field": "v", "type": "quantitative", "axis": {"title": null}}}},
  {"data": {"name": "dvL"}, "mark": {"type": "rule", "color": "black", "strokeWidth": 1},
   "encoding": {"x": {"field": "f1", "type": "quantitative", "axis": {"title": null}}, "x2": {"field": "f2"}, "y": {"field": "v", "type": "quantitative", "axis": {"title": null}}}},
  {"data": {"name": "dvM"}, "mark": {"type": "rule", "color": "black", "strokeWidth": 1},
   "encoding": {"x": {"field": "f", "type": "quantitative", "axis": {"title": null}}, "y": {"field": "lo", "type": "quantitative", "axis": {"title": null}}, "y2": {"field": "hi"}}},
  {"data": {"name": "hR2"}, "mark": {"type": "point", "shape": "M-1,-0.5L1,0L-1,0.5Z", "size": 100, "filled": true, "color": "black", "opacity": 1, "strokeWidth": 0},
   "encoding": {"x": {"field": "f", "type": "quantitative", "axis": {"title": null}}, "y": {"field": "v", "type": "quantitative", "axis": {"title": null}}}},
  {"data": {"name": "hL2"}, "mark": {"type": "point", "shape": "M1,-0.5L-1,0L1,0.5Z", "size": 100, "filled": true, "color": "black", "opacity": 1, "strokeWidth": 0},
   "encoding": {"x": {"field": "f", "type": "quantitative", "axis": {"title": null}}, "y": {"field": "v", "type": "quantitative", "axis": {"title": null}}}},
  {"data": {"name": "bB"}, "mark": {"type": "text", "color": "black", "fontSize": 17, "font": "Liberation Sans", "align": "left", "baseline": "alphabetic"},
   "encoding": {"x": {"field": "f", "type": "quantitative", "axis": {"title": null}}, "y": {"field": "v", "type": "quantitative", "axis": {"title": null}}, "text": {"field": "t"}}},
  {"data": {"name": "bF"}, "mark": {"type": "text", "color": "black", "fontSize": 12, "font": "Liberation Sans", "align": "left", "baseline": "alphabetic"},
   "encoding": {"x": {"field": "f", "type": "quantitative", "axis": {"title": null}}, "y": {"field": "v", "type": "quantitative", "axis": {"title": null}}, "text": {"field": "t"}}},
  {"data": {"name": "dvT"}, "mark": {"type": "text", "color": "black", "fontSize": 14, "font": "Liberation Sans", "align": "left", "baseline": "alphabetic"},
   "encoding": {"x": {"field": "f", "type": "quantitative", "axis": {"title": null}}, "y": {"field": "v", "type": "quantitative", "axis": {"title": null}}, "text": {"field": "t"}}}
 ]
},
{
 "width": 828, "height": 136,
 "view": {"stroke": "#333", "strokeWidth": 1},
 "resolve": {"axis": {"x": "independent"}},
 "layer": [
  {"data": {"name": "s3"}, "mark": {"type": "line", "clip": true, "color": "black", "strokeWidth": 0.8},
   "encoding": {
    "x": {"field": "f", "type": "quantitative", "scale": {"domain": [-500, 73.6], "nice": false, "zero": false}, "axis": {"orient": "bottom", "values": [-500,-400,-300,-200,-100,0], "title": null, "labelExpr": "'' + datum.value"}},
    "y": {"field": "a", "type": "quantitative", "scale": {"domain": [-10, 20], "nice": false, "zero": false}, "axis": {"values": [-10,0,10,20], "title": "dB", "titleX": -51, "titleY": -22, "titleAngle": 270, "titleAlign": "center", "titleBaseline": "middle", "labelExpr": "'' + datum.value"}}}},
  {"data": {"name": "sp3"}, "mark": {"type": "rule", "color": "black", "strokeWidth": 0.8},
   "encoding": {
    "x": {"field": "f", "type": "quantitative", "axis": {"orient": "top", "values": [-500,-400,-300,-200,-100,0], "labels": false, "title": null, "domain": false}},
    "y": {"field": "lo", "type": "quantitative"}, "y2": {"field": "hi"}}}
 ]
},
{
 "width": 828, "height": 135,
 "view": {"stroke": "#333", "strokeWidth": 1},
 "resolve": {"axis": {"x": "independent"}},
 "layer": [
  {"data": {"name": "s4"}, "mark": {"type": "line", "clip": true, "color": "black", "strokeWidth": 0.8},
   "encoding": {
    "x": {"field": "f", "type": "quantitative", "scale": {"domain": [-500, 73.6], "nice": false, "zero": false}, "axis": {"orient": "bottom", "values": [-500,-400,-300,-200,-100,0], "title": "Frequency (GHz)", "titleX": 419, "titleY": 40, "titleAlign": "center", "titleBaseline": "alphabetic", "labelExpr": "'' + datum.value"}},
    "y": {"field": "a", "type": "quantitative", "scale": {"domain": [-10, 20], "nice": false, "zero": false}, "axis": {"values": [-10,0,10,20], "title": null, "labelExpr": "'' + datum.value"}}}},
  {"data": {"name": "sp4"}, "mark": {"type": "rule", "color": "black", "strokeWidth": 0.8},
   "encoding": {
    "x": {"field": "f", "type": "quantitative", "axis": {"orient": "top", "values": [-500,-400,-300,-200,-100,0], "labels": false, "title": null, "domain": false}},
    "y": {"field": "lo", "type": "quantitative", "axis": {"title": null}}, "y2": {"field": "hi"}}}
 ]
}
]
}
